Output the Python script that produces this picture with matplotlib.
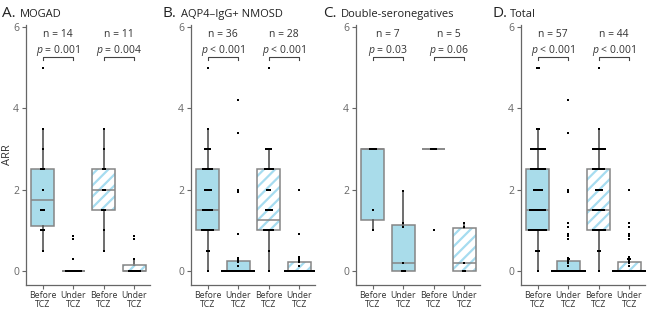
import numpy as np
import matplotlib.pyplot as plt
from matplotlib.patches import PathPatch

plt.rcParams['font.family'] = ['Open Sans', 'DejaVu Sans']
plt.rcParams['mathtext.fontset'] = 'custom'
plt.rcParams['mathtext.it'] = 'Open Sans:italic'
plt.rcParams['mathtext.rm'] = 'Open Sans'
plt.rcParams['hatch.linewidth'] = 1.6

# ---- data ----
panel_letters = ['A.', 'B.', 'C.', 'D.']
panel_names = ['MOGAD', 'AQP4–IgG+ NMOSD', 'Double-seronegatives', 'Total']
tick_labels = ['Before\nTCZ', 'Under\nTCZ', 'Before\nTCZ', 'Under\nTCZ']
n_labels = [('14', '11'), ('36', '28'), ('7', '5'), ('57', '44')]
p_labels = [('= 0.001', '= 0.004'), ('< 0.001', '< 0.001'),
            ('= 0.03', '= 0.06'), ('< 0.001', '< 0.001')]

# box stats per panel: (q1, median, q3, whisker low, whisker high) for the 4 boxes
q1 = [[1.12, 0, 1.5, 0], [1.0, 0, 1.0, 0], [1.25, 0, 3.0, 0], [1.0, 0, 1.0, 0]]
med = [[1.75, 0, 2.0, 0], [1.5, 0, 1.25, 0], [3.0, 0.2, 3.0, 0.2], [1.5, 0, 1.5, 0]]
q3 = [[2.5, 0, 2.5, 0.15], [2.5, 0.24, 2.5, 0.22], [3.0, 1.14, 3.0, 1.07], [2.5, 0.24, 2.5, 0.22]]
wlo = [[0.5, 0, 0.5, 0], [0, 0, 0, 0], [1.0, 0, 3.0, 0], [0, 0, 0, 0]]
whi = [[3.5, 0, 3.5, 0.3], [3.5, 0.24, 3.0, 0.22], [3.0, 1.97, 3.0, 1.18], [3.5, 0.24, 3.5, 0.22]]

# individual patient ARR values
a_before = [0.5, 1, 1, 1.5, 1.5, 1.5, 2, 2.5, 2.5, 2.5, 3, 3.5, 5, 1]
a_under = [0] * 11 + [0.3, 0.78, 0.86]
a_before_h = [0.5, 1, 1.5, 1.5, 1.5, 2, 2, 2.5, 2.5, 3, 3.5]
a_under_h = [0] * 8 + [0.3, 0.78, 0.86]
b_before = [0, 0.5, 0.5] + [1] * 8 + [1.5] * 7 + [2] * 5 + [2.5] * 7 + [3] * 4 + [3.5, 5]
b_under = [0] * 25 + [0.13, 0.22, 0.25, 0.28, 0.3, 0.33, 0.92, 1.95, 2.0, 3.4, 4.2]
b_before_h = [0, 0.5] + [1] * 7 + [1.5] * 5 + [2] * 3 + [2.5] * 6 + [3] * 4 + [5]
b_under_h = [0] * 20 + [0.12, 0.22, 0.25, 0.28, 0.3, 0.35, 0.92, 2.0]
c_before = [1, 1.5, 3, 3, 3, 3, 3]
c_under = [0, 0, 0, 0.2, 1.08, 1.18, 1.97]
c_before_h = [1, 3, 3, 3, 3]
c_under_h = [0, 0, 0.2, 1.08, 1.18]

points = [
    [a_before, a_under, a_before_h, a_under_h],
    [b_before, b_under, b_before_h, b_under_h],
    [c_before, c_under, c_before_h, c_under_h],
    [a_before + b_before + c_before, a_under + b_under + c_under,
     a_before_h + b_before_h + c_before_h, a_under_h + b_under_h + c_under_h],
]

fill = '#a9dcea'
stripe = '#a6dcf0'
edge = '#858585'
dark = '#444444'


def swarm(vals, pos):
    # spread repeated values sideways so they show as a short bar
    vals = np.asarray(vals, dtype=float)
    xs = np.full(len(vals), float(pos))
    for v in np.unique(vals):
        idx = np.where(vals == v)[0]
        k = len(idx)
        dx = min(0.05, 1.1 / k)
        xs[idx] = pos + (np.arange(k) - (k - 1) / 2) * dx
    return xs, vals


fig = plt.figure(figsize=(6.48, 3.10), dpi=100)
lefts = [26, 191, 356, 521]
title_x = [2, 163, 323, 492]
for i in range(4):
    ax = fig.add_axes([lefts[i] / 648, 0.081, 123.5 / 648, 0.838])
    stats = []
    for j in range(4):
        stats.append(dict(q1=q1[i][j], med=med[i][j], q3=q3[i][j],
                          whislo=wlo[i][j], whishi=whi[i][j], fliers=[]))
    bp = ax.bxp(stats, positions=[1, 2, 3, 4], widths=0.75, patch_artist=True,
                showcaps=False, showfliers=False,
                boxprops=dict(edgecolor=edge, linewidth=1.1),
                medianprops=dict(color=edge, linewidth=1.1, zorder=2),
                whiskerprops=dict(color='#555555', linewidth=1.2),
                zorder=1)
    for j, box in enumerate(bp['boxes']):
        if j < 2:
            box.set_facecolor(fill)
        else:
            # hatch takes the edge colour, so draw the outline separately
            box.set_facecolor('white')
            box.set_hatch('///')
            box.set_edgecolor(stripe)
            box.set_linewidth(0)
            ax.add_patch(PathPatch(box.get_path(), transform=box.get_transform(),
                                   fill=False, edgecolor=edge, linewidth=1.1,
                                   zorder=1.5))

    for j in range(4):
        xs, ys = swarm(points[i][j], j + 1)
        ax.plot(xs, ys, 's', color='black', ms=2.0, mew=0, zorder=3)

    # n, p and bracket
    for k, (xa, xb) in enumerate([(1, 2), (3, 4)]):
        xm = (xa + xb) / 2
        ax.text(xm, 5.83, 'n = ' + n_labels[i][k], ha='center', va='center',
                fontsize=7.5, color='#333333')
        ax.text(xm, 5.43, r'$\it{p}$ ' + p_labels[i][k], ha='center', va='center',
                fontsize=7.5, color='#333333')
        ax.plot([xa, xa, xb, xb], [5.19, 5.27, 5.27, 5.19], color=dark, lw=0.8,
                clip_on=False)

    ax.set_xlim(0.45, 4.5)
    ax.set_ylim(-0.34, 6.05)
    ax.set_yticks([0, 2, 4, 6])
    ax.set_xticks([1, 2, 3, 4])
    ax.set_xticklabels(tick_labels, fontsize=6.3, color='#333333', linespacing=0.95)
    ax.tick_params(axis='y', labelsize=7.5, colors='#666666', length=3, width=0.8,
                   pad=2)
    ax.tick_params(axis='x', colors='#666666', length=3, width=0.8, pad=1.5)
    for lab in ax.get_xticklabels():
        lab.set_color('#333333')
    for s in ['top', 'right']:
        ax.spines[s].set_visible(False)
    for s in ['left', 'bottom']:
        ax.spines[s].set_color('#666666')
        ax.spines[s].set_linewidth(0.9)
    if i == 0:
        ax.set_ylabel('ARR', fontsize=8, color='#333333')
        ax.yaxis.set_label_coords(-0.105, 0.5)

    fig.text(title_x[i] / 648, 1 - 17 / 310, panel_letters[i], fontsize=11,
             color='#222222', va='baseline')
    fig.text((title_x[i] + 18) / 648, 1 - 17 / 310, panel_names[i], fontsize=8,
             color='#222222', va='baseline')

fig.savefig('out.png', dpi=100)
